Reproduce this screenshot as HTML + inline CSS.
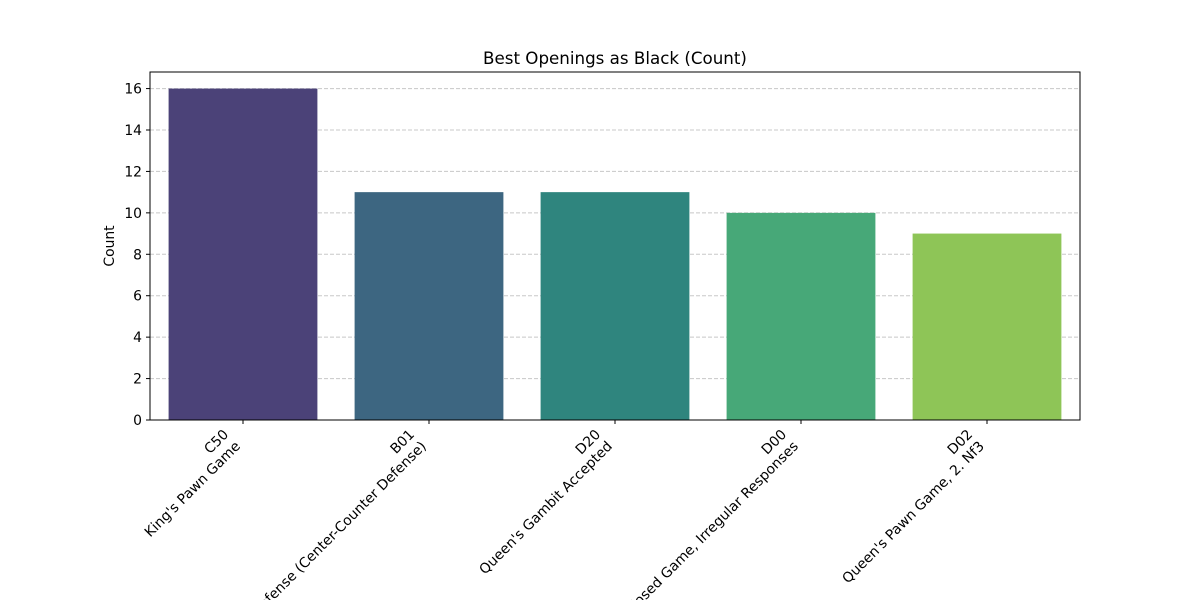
<!DOCTYPE html>
<html><head><meta charset="utf-8"><style>html,body{margin:0;width:1200px;height:600px;overflow:hidden;background:#fff}svg{display:block;overflow:hidden;font-family:"DejaVu Sans","Liberation Sans",sans-serif}</style></head>
<body>
<svg id="chart" width="1200" height="600" viewBox="0 0 1200 600" xmlns="http://www.w3.org/2000/svg">
<defs><clipPath id="frameclip"><rect x="0" y="0" width="1200" height="600"/></clipPath></defs>
<rect width="1200" height="600" fill="#fff"/>
<g id="grid"></g><g id="bars"></g><g id="axes"></g>
<g clip-path="url(#frameclip)"><g id="xlabels"></g></g>
<text x="615" y="64" text-anchor="middle" font-size="16.7">Best Openings as Black (Count)</text>
<text transform="translate(114,246) rotate(-90)" text-anchor="middle" font-size="13.9">Count</text>
</svg>
<script>
const codes = ["C50","B01","D20","D00","D02"];
const names = ["King's Pawn Game","Scandinavian Defense (Center-Counter Defense)","Queen's Gambit Accepted","Queen's Pawn Game, Closed Game, Irregular Responses","Queen's Pawn Game, 2. Nf3"];
const counts = [16,11,11,10,9];
const yTicks = [0,2,4,6,8,10,12,14,16];
const colors = ["#4b4278","#3d6681","#2f857e","#47a878","#8ec557"];
const NS="http://www.w3.org/2000/svg";
const L=150,R=1080,T=72,B=420,yMax=16.8;
const x=i=>L+(i+0.5)*(R-L)/codes.length;
const y=v=>B-v/yMax*(B-T);
const bw=0.8*(R-L)/codes.length;
function mk(tag,attrs,parent){const e=document.createElementNS(NS,tag);for(const k in attrs)e.setAttribute(k,attrs[k]);parent.appendChild(e);return e;}
const grid=document.getElementById('grid'),bars=document.getElementById('bars'),axes=document.getElementById('axes'),xl=document.getElementById('xlabels');
yTicks.forEach(t=>{
  const g=mk('line',{x1:L,x2:R,y1:y(t),y2:y(t),stroke:'#c8c8c8','stroke-dasharray':'4,2','stroke-width':1},grid);
  
  
  const tk=mk('line',{x1:L-4,x2:L,y1:y(t),y2:y(t),stroke:'#000'},axes);
  
  
  const tl=mk('text',{x:L-8,y:y(t)+5,'text-anchor':'end','font-size':13.9},axes);
  tl.textContent=t;
  
  
});
counts.forEach((v,i)=>{
  const r=mk('rect',{x:x(i)-bw/2,y:y(v),width:bw,height:B-y(v),fill:colors[i]},bars);
  
  
  const tk=mk('line',{x1:x(i),x2:x(i),y1:B,y2:B+4,stroke:'#000'},axes);
  
  
  const g=mk('g',{transform:`translate(${x(i)-23},426) rotate(-45)`},xl);
  const t=mk('text',{'text-anchor':'end','font-size':13.9},g);
  
  
  const a=mk('tspan',{x:0,y:13},t);a.textContent=codes[i];
  const b=mk('tspan',{x:0,y:29.7},t);b.textContent=names[i];
});
const fr=mk('rect',{x:L,y:T,width:R-L,height:B-T,fill:'none',stroke:'#000','stroke-width':1},axes);


</script>
</body></html>
